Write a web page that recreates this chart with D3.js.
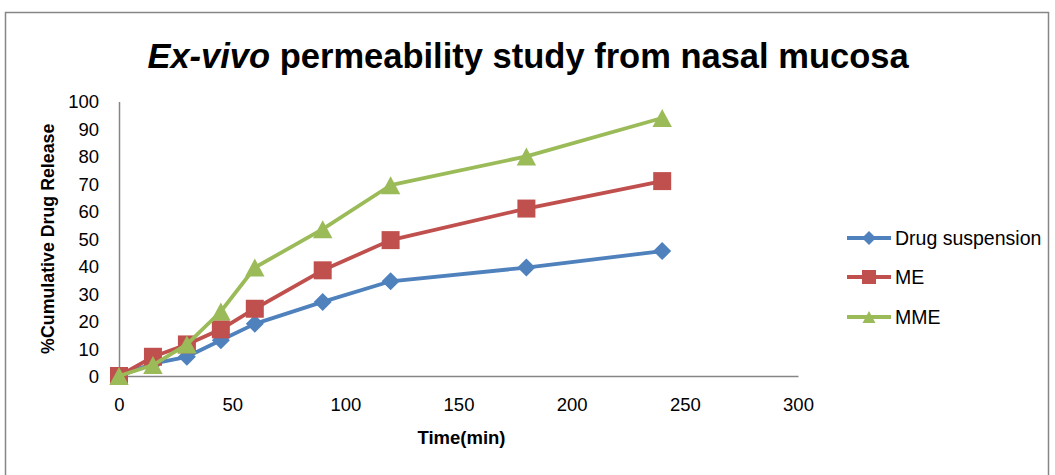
<!DOCTYPE html>
<html>
<head>
<meta charset="utf-8">
<script src="https://cdn.jsdelivr.net/npm/d3@7"></script>
<style>
  html, body { margin: 0; padding: 0; background: #fff; }
  svg { display: block; }
  text { font-family: "Liberation Sans", Arial, sans-serif; fill: #000; }
</style>
</head>
<body>
<svg id="chart" width="1055" height="475"></svg>
<script>
// Sampling times (min)
const times = [0, 15, 30, 45, 60, 90, 120, 180, 240];
// % cumulative drug release per formulation
const drugSuspension = [0, 4.5, 7, 13, 19, 27, 34.5, 39.5, 45.5];
const meValues = [0, 7, 11.5, 17, 24.5, 38.5, 49.5, 61, 71];
const mmeValues = [0, 4, 11.5, 23.5, 39.5, 53.5, 69.5, 80, 94];
const seriesNames = ["Drug suspension", "ME", "MME"];
const xTicks = [0, 50, 100, 150, 200, 250, 300];
const yTicks = [0, 10, 20, 30, 40, 50, 60, 70, 80, 90, 100];

const colors = ["#4F81BD", "#C0504D", "#9BBB59"];

// marker shapes drawn around the origin, r = half extent
const markerPath = {
  diamond: r => `M0,${-r}L${r},0L0,${r}L${-r},0Z`,
  square: r => `M${-r},${-r}H${r}V${r}H${-r}Z`,
  triangle: r => `M0,${-r}L${r * 1.08},${r}L${-r * 1.08},${r}Z`
};
const markerKinds = ["diamond", "square", "triangle"];

const series = [drugSuspension, meValues, mmeValues].map((vals, i) => ({
  name: seriesNames[i],
  color: colors[i],
  kind: markerKinds[i],
  points: times.map((t, j) => ({ t, v: vals[j] }))
}));

const svg = d3.select("#chart");

// outer chart frame
svg.append("rect")
  .attr("x", 5.5).attr("y", 12.5)
  .attr("width", 1043).attr("height", 480)
  .attr("fill", "none").attr("stroke", "#868686").attr("stroke-width", 1.5);

const x = d3.scaleLinear().domain([0, 300]).range([119, 798]);
const y = d3.scaleLinear().domain([0, 100]).range([376, 101.5]);

// title
const title = svg.append("text")
  .attr("x", 528).attr("y", 68)
  .attr("text-anchor", "middle")
  .style("font-size", "34.5px").style("font-weight", "bold");
title.append("tspan").style("font-style", "italic").text("Ex-vivo");
title.append("tspan").text(" permeability study from nasal mucosa");

// axes
const xAxis = d3.axisBottom(x).tickValues(xTicks).tickSize(0).tickPadding(22);
const yAxis = d3.axisLeft(y).tickValues(yTicks).tickSize(0).tickPadding(20);

const gx = svg.append("g").attr("transform", `translate(0,${y(0)})`).call(xAxis);
const gy = svg.append("g").attr("transform", `translate(${x(0)},0)`).call(yAxis);
[gx, gy].forEach(g => {
  g.select(".domain").attr("stroke", "#868686").attr("stroke-width", 1.5);
  g.selectAll("text").style("font-size", "18.5px").attr("fill", "#000")
    .style("font-family", "'Liberation Sans', Arial, sans-serif");
});
gy.selectAll("text").attr("dy", "0.35em");

// axis titles
svg.append("text")
  .attr("x", (x(0) + x(300)) / 2 + 3).attr("y", 444)
  .attr("text-anchor", "middle")
  .style("font-size", "18.5px").style("font-weight", "bold")
  .text("Time(min)");

svg.append("text")
  .attr("transform", `translate(54,${(y(0) + y(100)) / 2}) rotate(-90)`)
  .attr("text-anchor", "middle")
  .style("font-size", "17.8px").style("font-weight", "bold")
  .text("%Cumulative Drug Release");

// series lines and markers
const line = d3.line().x(d => x(d.t)).y(d => y(d.v));

series.forEach(s => {
  const g = svg.append("g");
  g.append("path")
    .datum(s.points)
    .attr("d", line)
    .attr("fill", "none")
    .attr("stroke", s.color)
    .attr("stroke-width", 3.8)
    .attr("stroke-linejoin", "round");
  g.selectAll("path.marker")
    .data(s.points)
    .enter().append("path")
    .attr("class", "marker")
    .attr("d", markerPath[s.kind](9))
    .attr("transform", d => `translate(${x(d.t)},${y(d.v)})`)
    .attr("fill", s.color);
});

// legend
const legend = svg.append("g");
const legendRows = [238, 277, 317];
series.forEach((s, i) => {
  const row = legend.append("g").attr("transform", `translate(847,${legendRows[i]})`);
  row.append("line")
    .attr("x1", 0).attr("x2", 44)
    .attr("stroke", s.color).attr("stroke-width", 3.8);
  row.append("path")
    .attr("d", markerPath[s.kind](s.kind === "triangle" ? 6 : 7))
    .attr("transform", "translate(22,0)")
    .attr("fill", s.color);
  row.append("text")
    .attr("x", 48).attr("dy", "0.35em")
    .style("font-size", "19.5px")
    .text(s.name);
});
</script>
</body>
</html>
